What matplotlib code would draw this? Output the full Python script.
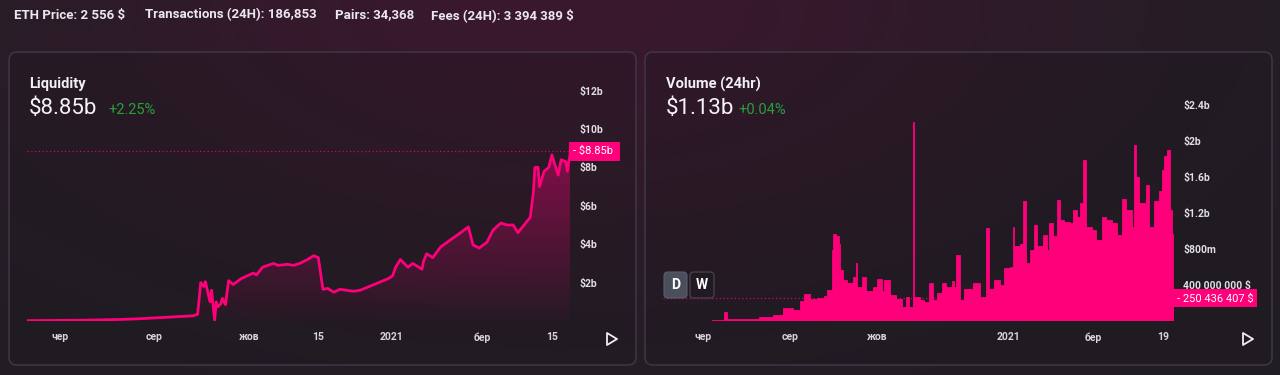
import numpy as np
import pandas as pd
import matplotlib
matplotlib.use('Agg')
import matplotlib.pyplot as plt
import matplotlib.dates as mdates
import matplotlib.transforms as mtransforms
from matplotlib.patches import FancyBboxPatch, Polygon
from matplotlib.colors import LinearSegmentedColormap

plt.rcParams['font.family'] = ['Roboto', 'DejaVu Sans']

# header stats
header_items = ['ETH Price: 2 556 $', 'Transactions (24H): 186,853', 'Pairs: 34,368', 'Fees (24H): 3 394 389 $']

# liquidity (billions $)
liq_dates = ['2020-05-11', '2020-06-15', '2020-07-10', '2020-07-23', '2020-08-10', '2020-08-26', '2020-08-29',
             '2020-08-31', '2020-09-02', '2020-09-03', '2020-09-04', '2020-09-06', '2020-09-07', '2020-09-09',
             '2020-09-10', '2020-09-11', '2020-09-13', '2020-09-14', '2020-09-16', '2020-09-18', '2020-09-21',
             '2020-09-26', '2020-10-04', '2020-10-06', '2020-10-10', '2020-10-17', '2020-10-20', '2020-10-26',
             '2020-10-30', '2020-11-03', '2020-11-08', '2020-11-12', '2020-11-15', '2020-11-18', '2020-11-21',
             '2020-11-25', '2020-11-29', '2020-12-03', '2020-12-08', '2020-12-12', '2020-12-21', '2020-12-30',
             '2021-01-02', '2021-01-04', '2021-01-07', '2021-01-12', '2021-01-15', '2021-01-21', '2021-01-22',
             '2021-01-24', '2021-01-28', '2021-02-02', '2021-02-08', '2021-02-15', '2021-02-20', '2021-02-23',
             '2021-02-27', '2021-03-04', '2021-03-08', '2021-03-13', '2021-03-17', '2021-03-21', '2021-03-24',
             '2021-03-28', '2021-04-01', '2021-04-03', '2021-04-04', '2021-04-06', '2021-04-07', '2021-04-10',
             '2021-04-13', '2021-04-15', '2021-04-19', '2021-04-21', '2021-04-24', '2021-04-25', '2021-04-27']
liq_values = [0.02, 0.04, 0.08, 0.12, 0.20, 0.27, 0.35,
              2.0, 1.8, 2.05, 1.7, 1.0, 1.6, 0.05,
              1.0, 0.74, 0.9, 1.18, 0.85, 2.1, 1.9,
              2.2, 2.5, 2.4, 2.8, 3.0, 2.9, 2.95,
              2.9, 3.0, 3.2, 3.4, 3.3, 1.65, 1.7,
              1.5, 1.65, 1.6, 1.55, 1.6, 1.9, 2.2,
              2.35, 2.8, 3.2, 2.8, 3.0, 2.7, 3.1,
              3.5, 3.3, 3.85, 4.2, 4.6, 4.9, 3.96,
              3.8, 4.1, 4.74, 5.1, 5.0, 5.0, 4.6,
              5.0, 5.4, 6.7, 8.0, 8.0, 7.0, 7.8,
              8.0, 8.65, 7.6, 8.4, 8.3, 7.8, 8.85]
liq_now = 8.85

# daily volume (billions $)
vol_dates = ['2020-05-04', '2020-06-07', '2020-06-16', '2020-06-18', '2020-06-30', '2020-07-10', '2020-07-20',
             '2020-07-27', '2020-08-03', '2020-08-08', '2020-08-11', '2020-08-15', '2020-08-20', '2020-08-25',
             '2020-08-27', '2020-08-30', '2020-08-31', '2020-09-02', '2020-09-04', '2020-09-05', '2020-09-07',
             '2020-09-10', '2020-09-14', '2020-09-16', '2020-09-17', '2020-09-20', '2020-09-23', '2020-09-28',
             '2020-10-01', '2020-10-04', '2020-10-06', '2020-10-10', '2020-10-14', '2020-10-18', '2020-10-21',
             '2020-10-23', '2020-10-26', '2020-10-27', '2020-10-31', '2020-11-03', '2020-11-06', '2020-11-09',
             '2020-11-12', '2020-11-15', '2020-11-18', '2020-11-22', '2020-11-24', '2020-11-25', '2020-11-28',
             '2020-12-01', '2020-12-07', '2020-12-12', '2020-12-16', '2020-12-18', '2020-12-22', '2020-12-26',
             '2020-12-29', '2021-01-02', '2021-01-04', '2021-01-05', '2021-01-09', '2021-01-11', '2021-01-13',
             '2021-01-16', '2021-01-19', '2021-01-21', '2021-01-25', '2021-01-28', '2021-01-29', '2021-02-01',
             '2021-02-04', '2021-02-06', '2021-02-09', '2021-02-13', '2021-02-15', '2021-02-18', '2021-02-20',
             '2021-02-22', '2021-02-24', '2021-02-28', '2021-03-03', '2021-03-07', '2021-03-10', '2021-03-14',
             '2021-03-18', '2021-03-21', '2021-03-24', '2021-03-28', '2021-03-30', '2021-03-31', '2021-04-02',
             '2021-04-07', '2021-04-09', '2021-04-13', '2021-04-16', '2021-04-18', '2021-04-20', '2021-04-22',
             '2021-04-24', '2021-04-25', '2021-04-26']
vol_values = [0.005, 0.01, 0.10, 0.02, 0.02, 0.05, 0.07,
              0.14, 0.12, 0.22, 0.30, 0.24, 0.26, 0.28,
              0.34, 0.79, 0.97, 0.94, 0.86, 0.57, 0.46,
              0.42, 0.49, 0.64, 0.38, 0.49, 0.33, 0.38,
              0.47, 0.33, 0.46, 0.29, 0.25, 0.16, 0.27,
              0.16, 2.21, 0.27, 0.23, 0.21, 0.42, 0.23,
              0.31, 0.42, 0.38, 0.44, 0.38, 0.73, 0.23,
              0.36, 0.42, 0.27, 1.03, 0.36, 0.46, 0.40,
              0.59, 0.60, 1.05, 0.83, 0.86, 1.33, 0.64,
              0.79, 1.07, 0.83, 0.96, 0.79, 1.09, 0.94,
              1.34, 1.12, 1.10, 1.09, 1.23, 1.16, 1.31,
              1.79, 1.05, 1.01, 0.90, 1.16, 1.12, 1.09,
              0.96, 1.36, 1.23, 1.05, 1.96, 1.60, 1.31,
              1.51, 1.05, 1.33, 1.44, 1.68, 1.83, 1.90,
              1.23, 0.97, 0.25]
vol_now = 0.250436407

left_tick_dates = ['2020-06-01', '2020-08-01', '2020-10-01', '2020-11-15', '2021-01-01', '2021-03-01', '2021-04-15']
left_tick_labels = ['чер', 'сер', 'жов', '15', '2021', 'бер', '15']
right_tick_dates = ['2020-06-01', '2020-08-01', '2020-10-01', '2021-01-01', '2021-03-01', '2021-04-19']
right_tick_labels = ['чер', 'сер', 'жов', '2021', 'бер', '19']

liq_yticks = [2, 4, 6, 8, 10, 12]
liq_ylabels = ['$2b', '$4b', '$6b', '$8b', '$10b', '$12b']
vol_yticks = [0.4, 0.8, 1.2, 1.6, 2.0, 2.4]
vol_ylabels = ['400 000 000 $', '$800m', '$1.2b', '$1.6b', '$2b', '$2.4b']

PINK = '#ff007a'
W, H = 1280, 375

fig = plt.figure(figsize=(W / 100, H / 100), dpi=100)

# background in pixel coordinates
bg = fig.add_axes([0, 0, 1, 1])
bg.set_xlim(0, W)
bg.set_ylim(H, 0)
bg.axis('off')
bg.set_zorder(0)
yy, xx = np.mgrid[0:H, 0:W]
glow = np.exp(-((xx - 560) / 520.0) ** 2) * np.exp(-(yy / 260.0) ** 2)
base = np.array([0x21, 0x1e, 0x24]) / 255
hot = np.array([0x3a, 0x18, 0x2e]) / 255
img = base[None, None, :] * (1 - glow[..., None]) + hot[None, None, :] * glow[..., None]
bg.imshow(img, extent=[0, W, H, 0], aspect='auto', zorder=0)

for x0 in [9, 645]:
    bg.add_patch(FancyBboxPatch((x0, 52), 627, 313, boxstyle='round,pad=0,rounding_size=8',
                                fc=(0.10, 0.09, 0.11, 0.25), ec='#3d3543', lw=1.2, zorder=1))

hx = [14, 145, 335, 431]
for x, t in zip(hx, header_items):
    bg.text(x, 15, t, color='#ebe7ee', fontsize=9.5, fontweight='bold', va='center', ha='left')

bg.text(29, 84, 'Liquidity', color='#f2eff4', fontsize=10.5, fontweight='bold', va='center')
bg.text(29, 108, '$8.85b', color='#f5f3f7', fontsize=16, va='center')
bg.text(108, 110, '+2.25%', color='#27a03c', fontsize=10.5, va='center')
bg.text(666, 84, 'Volume (24hr)', color='#f2eff4', fontsize=10.5, fontweight='bold', va='center')
bg.text(666, 108, '$1.13b', color='#f5f3f7', fontsize=16, va='center')
bg.text(738, 110, '+0.04%', color='#27a03c', fontsize=10.5, va='center')


def style_axis(ax, tick_dates, tick_labels, yticks, ylabels):
    ax.set_facecolor('none')
    for s in ax.spines.values():
        s.set_visible(False)
    ax.yaxis.tick_right()
    ax.set_yticks(yticks)
    ax.set_yticklabels(ylabels)
    ax.set_xticks(pd.to_datetime(tick_dates))
    ax.set_xticklabels(tick_labels)
    ax.tick_params(axis='y', length=0, pad=6.5, labelsize=7.5, labelcolor='#e2dee5')
    ax.tick_params(axis='x', length=0, pad=8, labelsize=7.5, labelcolor='#d8d3dc')
    for lab in ax.get_xticklabels() + ax.get_yticklabels():
        lab.set_fontweight('bold')


# Liquidity chart
ax1 = fig.add_axes([27 / W, 54 / H, 543 / W, 241 / H])
ax1.set_zorder(1)
jun1 = mdates.date2num(pd.Timestamp('2020-06-01'))
ax1.set_xlim(jun1 - 21.3, jun1 + 329.7)
ax1.set_ylim(0, 241 / 19.2)
ld = pd.to_datetime(liq_dates)
poly = ax1.fill_between(ld, liq_values, 0, color='none')
cmap = LinearSegmentedColormap.from_list('g', [(1, 0, 0.48, 0.02), (1, 0, 0.48, 0.42)])
grad = ax1.imshow(np.linspace(0, 1, 256).reshape(-1, 1), cmap=cmap, origin='lower', aspect='auto',
                  extent=[mdates.date2num(ld[0]), mdates.date2num(ld[-1]), 0, 9], zorder=1)
grad.set_clip_path(poly.get_paths()[0], ax1.transData)
ax1.plot(ld, liq_values, color=PINK, lw=2, zorder=3, solid_joinstyle='round')
ax1.axhline(liq_now, color=PINK, lw=0.9, ls=(0, (1, 2)), alpha=0.8, zorder=2)
style_axis(ax1, left_tick_dates, left_tick_labels, liq_yticks, liq_ylabels)
tr1 = mtransforms.blended_transform_factory(ax1.transAxes, ax1.transData)
ax1.text(1.006, liq_now, '- $8.85b ', transform=tr1, ha='left', va='center', color='white', fontsize=8,
         bbox=dict(boxstyle='square,pad=0.4', fc=PINK, ec='none'), zorder=5, clip_on=False)

# Volume chart
ax2 = fig.add_axes([663 / W, 54 / H, 511 / W, 241 / H])
ax2.set_zorder(1)
ax2.set_xlim(jun1 - 28, jun1 + 329.7)
ax2.set_ylim(0, 241 / 90)
vd = mdates.date2num(pd.to_datetime(vol_dates))
widths = np.append(np.diff(vd), 1.0)
ax2.bar(vd, vol_values, width=widths, align='edge', color=PINK, edgecolor=PINK, linewidth=0.6, zorder=2)
ax2.axhline(vol_now, color=PINK, lw=0.9, ls=(0, (1, 2)), alpha=0.8, zorder=1)
style_axis(ax2, right_tick_dates, right_tick_labels, vol_yticks, vol_ylabels)
tr2 = mtransforms.blended_transform_factory(ax2.transAxes, ax2.transData)
ax2.text(1.005, vol_now, '- 250 436 407 $', transform=tr2, ha='left', va='center', color='white', fontsize=8,
         bbox=dict(boxstyle='square,pad=0.35', fc=PINK, ec='none'), zorder=5, clip_on=False)

# overlay: buttons and play icons
top = fig.add_axes([0, 0, 1, 1])
top.set_xlim(0, W)
top.set_ylim(H, 0)
top.axis('off')
top.set_zorder(2)
top.patch.set_visible(False)
top.add_patch(FancyBboxPatch((664, 272), 23, 26, boxstyle='round,pad=0,rounding_size=4',
                             fc='#4b4f5b', ec='#5a5e6a', lw=0.8))
top.add_patch(FancyBboxPatch((690, 272), 24, 26, boxstyle='round,pad=0,rounding_size=4',
                             fc='#221a22', ec='#4d4753', lw=0.8))
top.text(675.5, 285, 'D', color='white', fontsize=10, ha='center', va='center', fontweight='bold')
top.text(702, 285, 'W', color='white', fontsize=10, ha='center', va='center', fontweight='bold')
for x in [607, 1243]:
    top.add_patch(Polygon([(x, 333), (x, 345), (x + 10, 339)], closed=True, fill=False,
                          ec='#f0edf2', lw=1.3, joinstyle='round'))

fig.savefig('out.png', dpi=100, facecolor='#211e24')
